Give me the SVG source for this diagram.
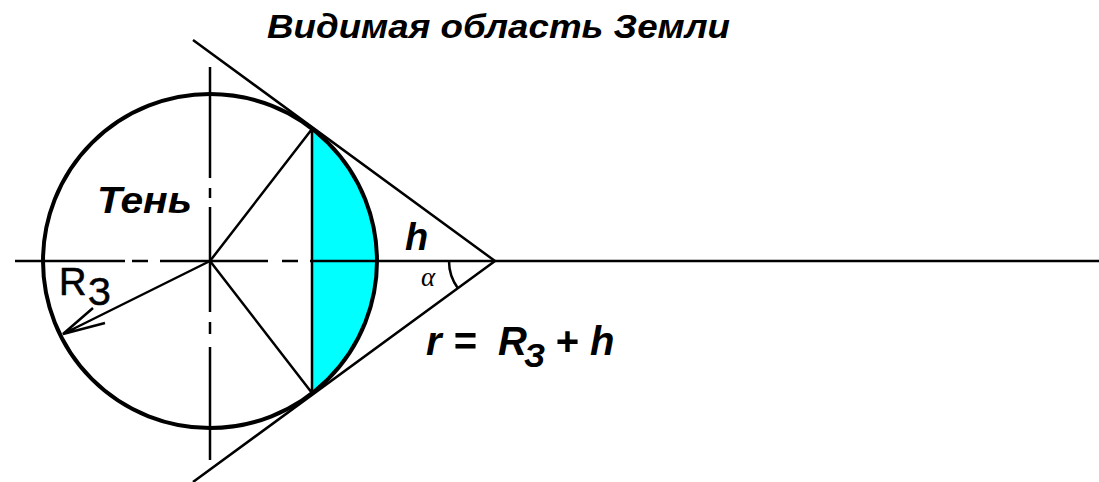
<svg xmlns="http://www.w3.org/2000/svg" width="1099" height="482" viewBox="0 0 1099 482">
<style>
.ln{stroke:#000;stroke-width:2.5;fill:none;stroke-linecap:butt}
.bi{font-family:"Liberation Sans",Arial,sans-serif;font-weight:bold;font-style:italic;fill:#000}
.rg{font-family:"Liberation Sans",Arial,sans-serif;fill:#000}
</style>
<rect width="1099" height="482" fill="#fff"/>
<g id="segment">
<path d="M312,128.8 A167,167 0 0 1 312,393.2 Z" fill="#00ffff"/>
</g>
<g id="earth">
<circle cx="210" cy="261" r="167" fill="none" stroke="#000" stroke-width="4"/>
</g>
<g id="connectors">
<path class="ln" d="M15,261 H125 M132,261 H148 M160,261 H268 M282,261 H298 M310,261 H1099"/>
<path class="ln" d="M210,67 V178 M210,188 V198 M210,207 V312 M210,322 V334 M210,347 V460"/>
<path class="ln" d="M193,40 L495,261 L193,482"/>
<path class="ln" d="M312,129 L210,261 L312,393 M312,129 V393"/>
<path class="ln" d="M210,261 L63,334 M93,308 L63,334 L105,323"/>
<path class="ln" d="M449,261 A46,46 0 0 0 457.9,288.2"/>
</g>
<g id="labels">
<text class="bi" x="267" y="38" font-size="34" textLength="463" lengthAdjust="spacingAndGlyphs">Видимая область Земли</text>
<text class="bi" x="97" y="213" font-size="37" textLength="95" lengthAdjust="spacingAndGlyphs">Тень</text>
<text class="rg" x="59" y="295" font-size="38" stroke="#000" stroke-width="0.6">R<tspan x="88" y="305">З</tspan></text>
<text class="bi" x="405" y="250" font-size="38">h</text>
<text x="421" y="286" font-size="27" font-family="'Liberation Serif','Times New Roman',serif" font-style="italic">α</text>
<text class="bi" y="355" font-size="40"><tspan x="426">r</tspan><tspan x="453">=</tspan><tspan x="498">R</tspan><tspan x="524" y="367" font-size="33">З</tspan><tspan x="555" y="355">+</tspan><tspan x="590">h</tspan></text>
</g>
</svg>
